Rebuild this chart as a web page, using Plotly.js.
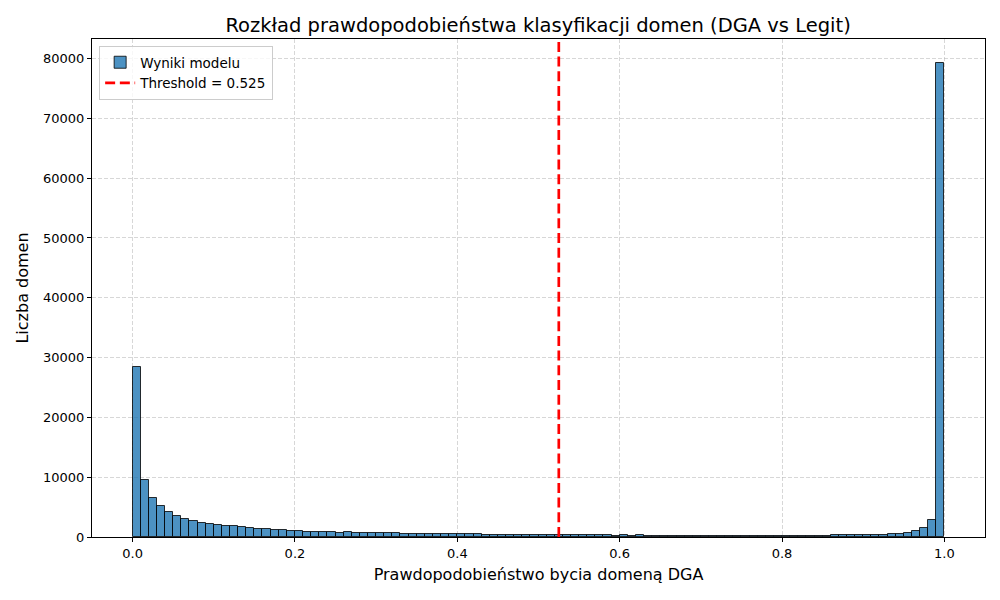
<!DOCTYPE html>
<html>
<head>
<meta charset="utf-8">
<script src="https://cdn.plot.ly/plotly-3.0.1.min.js"></script>
<style>body{margin:0;background:#fff}#chart{width:1000px;height:600px}</style>
</head>
<body>
<div id="chart"></div>
<script>
// histogram: 100 bins of width 0.01 over [0, 1]
var binStart = 0;
var binWidth = 0.01;
var counts = [
    28400, 9540, 6530, 5190, 4230, 3510, 3070, 2730, 2340, 2180,
    2010, 1840, 1840, 1670, 1510, 1340, 1340, 1170, 1170, 1060,
    1000, 840, 840, 840, 840, 610, 840, 700, 700, 700,
    670, 670, 670, 500, 500, 500, 500, 500, 500, 500,
    500, 500, 500, 330, 330, 330, 330, 330, 330, 330,
    330, 330, 330, 330, 330, 330, 330, 330, 330, 250,
    330, 200, 330, 220, 220, 220, 220, 220, 220, 220,
    200, 200, 200, 200, 200, 180, 180, 180, 180, 180,
    180, 180, 180, 180, 180, 180, 330, 330, 330, 330,
    330, 330, 330, 420, 500, 720, 1000, 1450, 2790, 79300
];
var threshold = 0.525;
var xTicks = [0, 0.2, 0.4, 0.6, 0.8, 1.0];
var xTickText = ["0.0", "0.2", "0.4", "0.6", "0.8", "1.0"];
var yTicks = [0, 10000, 20000, 30000, 40000, 50000, 60000, 70000, 80000];

var centers = counts.map(function (c, i) { return binStart + (i + 0.5) * binWidth; });
var yMax = Math.max.apply(null, counts) * 1.05;

var data = [
    {
        x: centers,
        y: counts,
        width: binWidth,
        type: 'bar',
        name: 'Wyniki modelu',
        marker: { color: 'rgba(31,119,180,0.8)', line: { color: 'rgba(0,0,0,0.8)', width: 1 } },
        hoverinfo: 'x+y'
    },
    {
        x: [threshold, threshold],
        y: [0, 1],
        yaxis: 'y2',
        mode: 'lines',
        type: 'scatter',
        name: 'Threshold = ' + threshold,
        line: { color: 'red', width: 2.7, dash: '10px,4.7px' }
    }
];

var font = "DejaVu Sans, sans-serif";
var grid = 'rgba(176,176,176,0.5)';
var layout = {
    width: 1000,
    height: 600,
    margin: { l: 92, r: 15, t: 39, b: 63 },
    paper_bgcolor: 'white',
    plot_bgcolor: 'white',
    font: { family: font, size: 13, color: 'black' },
    bargap: 0,
    showlegend: true,
    title: {
        text: 'Rozkład prawdopodobieństwa klasyfikacji domen (DGA vs Legit)',
        font: { size: 19.5, family: font },
        x: 0.5381, xanchor: 'center', y: 0.958, yanchor: 'middle'
    },
    xaxis: {
        range: [-0.05, 1.05],
        tickvals: xTicks,
        ticktext: xTickText,
        ticks: 'outside', ticklen: 4, tickcolor: 'black',
        showline: true, mirror: true, linecolor: 'black', linewidth: 1,
        showgrid: true, gridcolor: grid, griddash: '4px,2px',
        zeroline: false,
        title: { text: 'Prawdopodobieństwo bycia domeną DGA', font: { size: 16 }, standoff: 9 }
    },
    yaxis: {
        range: [0, yMax],
        tickvals: yTicks,
        tickformat: 'd',
        ticks: 'outside', ticklen: 4, tickcolor: 'black',
        showline: true, mirror: true, linecolor: 'black', linewidth: 1,
        showgrid: true, gridcolor: grid, griddash: '4px,2px',
        zeroline: false,
        title: { text: 'Liczba domen', font: { size: 16 }, standoff: 10 }
    },
    yaxis2: {
        overlaying: 'y',
        range: [0, 1],
        visible: false
    },
    legend: {
        x: 0.008, y: 0.986, xanchor: 'left', yanchor: 'top',
        bgcolor: 'rgba(255,255,255,0.8)',
        bordercolor: '#cccccc', borderwidth: 1,
        font: { size: 13.5 },
        tracegroupgap: 0
    }
};

Plotly.newPlot('chart', data, layout, { displayModeBar: false });
</script>
</body>
</html>
